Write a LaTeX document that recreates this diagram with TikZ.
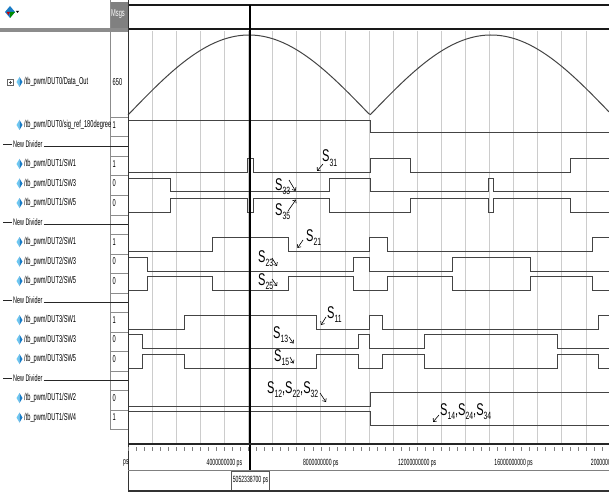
\documentclass[tikz,border=0pt]{standalone}
\usepackage{fontspec}
\setmainfont{Liberation Sans}
\newfontfamily\cnd[FakeStretch=0.57]{Liberation Sans}
\newfontfamily\lbl[FakeStretch=0.65]{Liberation Sans}
\usetikzlibrary{arrows.meta}
\newcommand{\sbs}[1]{\raisebox{-0.5ex}{\fontsize{10.5}{10.5}\selectfont #1}}
\definecolor{sigl}{HTML}{6CC8F2}
\definecolor{sigd}{HTML}{1A7CC6}
\definecolor{wavec}{HTML}{444444}
\tikzset{
  wave/.style={draw=wavec, line width=1pt, line join=miter},
  gridln/.style={draw=black!20, line width=0.7pt},
  sname/.style={font=\cnd\fontsize{10}{10}\selectfont, anchor=west, inner sep=0pt},
  vtxt/.style={font=\cnd\fontsize{10}{10}\selectfont, anchor=west, inner sep=0pt},
  axtxt/.style={font=\cnd\fontsize{9}{9}\selectfont, inner sep=0pt},
  ann/.style={font=\lbl\fontsize{17}{17}\selectfont, inner sep=0pt, anchor=base west},
  ptr/.style={-{Straight Barb[length=2.6pt,width=4.5pt]}, line width=0.6pt, draw=black},
}
\newcommand{\sigicon}[1]{%
  \fill[sigl] (19.5,#1-5) -- (19.5,#1+5) -- (16.5,#1) -- cycle;
  \fill[sigd] (19.5,#1-5) -- (22.5,#1) -- (19.5,#1+5) -- cycle;}
\begin{document}
\begin{tikzpicture}[x=1pt,y=-1pt]
\useasboundingbox (0,0) rectangle (609,494);
\fill[white] (0,0) rectangle (609,494);

% ---------- grid ----------
\foreach \k in {1,...,20} \draw[gridln] ({128+24.1*\k},31) -- ({128+24.1*\k},444);

% ---------- header of wave pane ----------
\draw[line width=2pt, black!90] (128,5) -- (609,5);
\draw[line width=2pt, black!90] (128,29) -- (609,29);

% ---------- left panel header ----------
\fill[black!45] (0,28.5) rectangle (128,32);
\fill[sigd] (10,6) -- (15,12) -- (10,18) -- (5,12) -- cycle;
\fill[green!55!black] (10,12) -- (15,12) -- (10,18) -- cycle;
\fill[red!80!black] (6.5,12) -- (10,12) -- (8.5,15) -- cycle;
\fill[black] (16,11) -- (19,11) -- (17.5,13) -- cycle;
\fill[black!50] (110.5,2) rectangle (128,28);
\begin{scope}
  \clip (110.5,2) rectangle (128,28);
  \node[vtxt, text=white] (msgs) at (111,14) {Msgs};
\end{scope}
\draw[black!45, line width=0.6pt] (110,0) -- (110,429);

% value column separators
\foreach \y in {117.25,136.75,156.25,175.75,195.25,214.75,234.25,253.75,273.25,292.75,312.25,331.75,351.25,370.75,390.25,409.75,429.25}
  \draw[black!45, line width=0.5pt] (110,\y) -- (128,\y);

% ---------- signal names ----------
\draw[black!60, line width=0.5pt] (7.5,79.5) rectangle (13,85);
\draw[black!70, line width=0.5pt] (8.8,82.25) -- (11.7,82.25);
\draw[black!70, line width=0.5pt] (10.25,80.8) -- (10.25,83.7);
\sigicon{82}
\node[sname] (n0) at (24,82) {/tb\_pwm/DUT0/Data\_Out};
\node[vtxt] (v0) at (112.5,82) {650};

\sigicon{125}
\node[sname] (n1) at (24,125) {/tb\_pwm/DUT0/sig\_ref\_180degree};
\node[vtxt] (v1) at (112.5,125) {1};

\foreach \c/\dut/\sw/\v/\id in {164/DUT1/SW1/1/a, 183.5/DUT1/SW3/0/b, 203/DUT1/SW5/0/c,
   242/DUT2/SW1/1/d, 261.5/DUT2/SW3/0/e, 281/DUT2/SW5/0/f,
   320/DUT3/SW1/1/g, 339.5/DUT3/SW3/0/h, 359/DUT3/SW5/0/i,
   398/DUT1/SW2/0/j, 417.5/DUT1/SW4/1/k}{
  \sigicon{\c}
  \node[sname] (n\id) at (24,\c) {/tb\_pwm/\dut/\sw};
  \node[vtxt] (v\id) at (112.5,\c) {\v};
}

% dividers
\foreach \c/\id in {144.5/1, 222.5/2, 300.5/3, 378.5/4}{
  \node[sname, font=\cnd\fontsize{9.5}{9.5}\selectfont] (nd\id) at (13,\c) {New Divider};
  \draw[black!85, line width=0.7pt] (3,\c) -- ([xshift=-1pt]nd\id.west);
  \draw[black!85, line width=0.7pt] ([xshift=1pt]nd\id.east |- 0,\c+2) -- (128,\c+2);
}

% ---------- analog waveform ----------
\draw[wave] plot[domain=128:609, samples=241] (\x, {115-80*abs(sin((\x-128)*0.743802))});

% ---------- digital waveforms ----------
\draw[wave] (128,121) -| (370,133) -- (609,133);
% DUT1
\draw[wave] (128,173) -| (247,159) -| (253,173) -| (370,159) -| (410,173) -| (570,159) -- (609,159);
\draw[wave] (128,179) -| (170,192) -| (329,179) -| (370,192) -| (488,179) -| (493,192) -- (609,192);
\draw[wave] (128,212) -| (170,198) -| (247,212) -| (253,198) -| (329,212) -| (410,198) -| (488,212) -| (493,198) -| (570,212) -- (609,212);
% DUT2
\draw[wave] (128,251) -| (212,237) -| (288,251) -| (369,237) -| (387,251) -| (592,237) -- (609,237);
\draw[wave] (128,257) -| (147,271) -| (353,257) -| (369,271) -| (452,257) -| (530,271) -- (609,271);
\draw[wave] (128,290) -| (147,276) -| (212,290) -| (288,276) -| (353,290) -| (387,276) -| (452,290) -| (530,276) -| (592,290) -- (609,290);
% DUT3
\draw[wave] (128,329) -| (184,315) -| (316,329) -| (369,315) -| (382,329) -| (598,315) -- (609,315);
\draw[wave] (128,334) -| (142,348) -| (358,334) -| (369,348) -| (424,334) -| (557,348) -- (609,348);
\draw[wave] (128,368) -| (142,354) -| (184,368) -| (316,354) -| (358,368) -| (382,354) -| (424,368) -| (557,354) -| (598,368) -- (609,368);
% SW2, SW4
\draw[wave] (128,406) -| (370,392) -- (609,392);
\draw[wave] (128,411) -| (370,425) -- (609,425);

% ---------- pane left edge and cursor ----------
\draw[line width=1pt, black!80] (128,0) -- (128,491);
\draw[line width=1.1pt, black] (250,5) -- (250,470);

% ---------- annotations ----------
\node[ann] (s31) at (322,162) {S\sbs{31}};
\coordinate (s31a) at (323,164); \coordinate (s31b) at (317,171);
\draw[ptr] (s31a) -- (s31b);
\node[ann] (s33) at (275,190) {S\sbs{33}};
\coordinate (s33a) at (289,180); \coordinate (s33b) at (295.5,191);
\draw[ptr] (s33a) -- (s33b);
\node[ann] (s35) at (275,215) {S\sbs{35}};
\coordinate (s35a) at (288,211); \coordinate (s35b) at (296,199.5);
\draw[ptr] (s35a) -- (s35b);
\node[ann] (s21) at (306,241) {S\sbs{21}};
\coordinate (s21a) at (303,240); \coordinate (s21b) at (297.5,248);
\draw[ptr] (s21a) -- (s21b);
\node[ann] (s23) at (258,262) {S\sbs{23}};
\coordinate (s23a) at (272,258); \coordinate (s23b) at (277,266);
\draw[ptr] (s23a) -- (s23b);
\node[ann] (s25) at (258,285) {S\sbs{25}};
\coordinate (s25a) at (272,279); \coordinate (s25b) at (277,286);
\draw[ptr] (s25a) -- (s25b);
\node[ann] (s11) at (327,318) {S\sbs{11}};
\coordinate (s11a) at (326,317); \coordinate (s11b) at (321,325);
\draw[ptr] (s11a) -- (s11b);
\node[ann] (s13) at (273,338) {S\sbs{13}};
\coordinate (s13a) at (289,337); \coordinate (s13b) at (293.5,343.5);
\draw[ptr] (s13a) -- (s13b);
\node[ann] (s15) at (274,361) {S\sbs{15}};
\coordinate (s15a) at (290,357); \coordinate (s15b) at (293.5,363.5);
\draw[ptr] (s15a) -- (s15b);
\node[ann] (s12) at (267,393) {S\sbs{12},S\sbs{22},S\sbs{32}};
\coordinate (s12a) at (320,393); \coordinate (s12b) at (326,402);
\draw[ptr] (s12a) -- (s12b);
\node[ann] (s14) at (440,415) {S\sbs{14},S\sbs{24},S\sbs{34}};
\coordinate (s14a) at (439,415); \coordinate (s14b) at (433,422);
\draw[ptr] (s14a) -- (s14b);

% ---------- time axis ----------
\draw[line width=1.6pt, black!85] (128,444) -- (609,444);
\foreach \k in {0,...,60} \draw[black!50, line width=0.5pt] ({128+24.1/3*\k},447) -- ({128+24.1/3*\k},451);
\node[axtxt, anchor=west] (t0) at (123,463) {ps};
\node[axtxt] (t4) at (224.4,463) {4000000000 ps};
\node[axtxt] (t8) at (320.8,463) {8000000000 ps};
\node[axtxt] (t12) at (417.2,463) {12000000000 ps};
\node[axtxt] (t16) at (513.6,463) {16000000000 ps};
\node[axtxt] (t20) at (610,463) {20000000000 ps};
\draw[black!50, line width=0.6pt] (128,470) -- (609,470);
\node[axtxt, draw=black!65, line width=0.6pt, inner xsep=1.2pt, minimum height=19pt] (cur) at (250.5,480.5) {5052338700 ps};
\draw[line width=1.5pt, black!80] (128,491) -- (609,491);
\end{tikzpicture}
\end{document}
